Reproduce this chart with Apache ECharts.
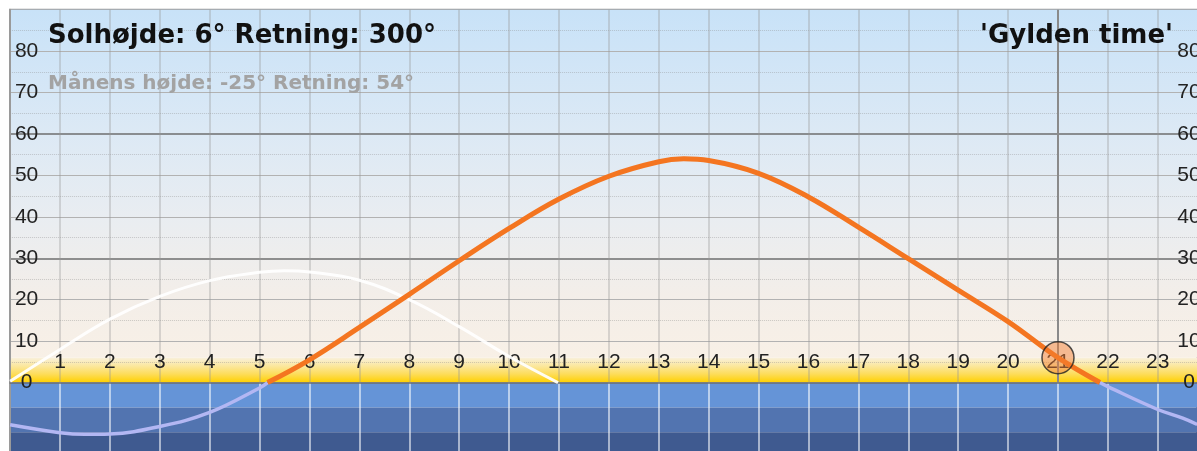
<!DOCTYPE html>
<html>
<head>
<meta charset="utf-8">
<script src="https://cdn.jsdelivr.net/npm/echarts@6/dist/echarts.min.js"></script>
<style>
  html, body { margin: 0; padding: 0; background: #fff; }
  #chart { width: 1197px; height: 451px; }
</style>
</head>
<body>
<div id="chart"></div>
<script>
// akser og gitter
const hourLabels = [1, 2, 3, 4, 5, 6, 7, 8, 9, 10, 11, 12, 13, 14, 15, 16, 17, 18, 19, 20, 21, 22, 23]
const yTickLabels = [0, 10, 20, 30, 40, 50, 60, 70, 80]
const gridMajor = [10, 20, 40, 50, 70, 80]
const gridDark = [30, 60]
const gridMinor = [5, 15, 25, 35, 45, 55, 65, 75, 85]
const goldenTop = 6
const twilightEdges = [0, -6, -12, -18]
const twilightColors = ['#6594d7', '#5274b0', '#3f5a90']

// solen over horisonten
const sunDayHours = [5.16, 6, 7, 8, 9, 10, 11, 12, 13, 13.5, 14, 15, 16, 17, 18, 19, 20, 21, 21.84]
const sunDayAlt = [0, 5.5, 13.3, 21.3, 29.4, 37.2, 44.3, 49.8, 53.3, 54, 53.6, 50.5, 44.8, 37.5, 29.9, 22.3, 14.7, 6, 0]
// solen under horisonten
const sunNightAmHours = [0, 1, 1.5, 2, 3, 4, 5, 5.16]
const sunNightAmAlt = [-10.2, -12.1, -12.5, -12.4, -10.6, -7.2, -1.3, 0]
const sunNightPmHours = [21.84, 22, 23, 23.5, 23.79]
const sunNightPmAlt = [0, -1, -6.5, -8.6, -10.1]
// månen
const moonHours = [0, 1, 2, 3, 4, 5, 5.5, 6, 7, 8, 9, 10, 10.98]
const moonAlt = [0.3, 8, 15.3, 20.8, 24.6, 26.6, 27, 26.7, 24.7, 20, 13.5, 6.3, 0]
// nu
const nowHour = [21]
const sunNow = [6]

// synligt udsnit (timer / grader)
const xMax = 23.786
const yMin = -16.52
const yMax = 90

const pairs = (xs, ys) => xs.map((x, i) => [x, ys[i]])
const grad = (stops) => new echarts.graphic.LinearGradient(0, 0, 0, 1,
  stops.map(s => ({ offset: s[0], color: s[1] })))

const chart = echarts.init(document.getElementById('chart'))

const numFont = 'Liberation Sans, Arial, sans-serif'
const titleFont = 'DejaVu Sans, Verdana, sans-serif'

// baggrund
const areas = [
  [{ yAxis: goldenTop, itemStyle: { color: grad([[0, '#c8e2f8'], [0.35, '#dce9f5'], [0.6, '#e9edf1'], [0.82, '#f3eee9'], [1, '#f8f0e6']]) } }, { yAxis: yMax }],
  [{ yAxis: 0, itemStyle: { color: grad([[0, '#f8f0dc'], [0.3, '#fbe8a4'], [0.65, '#fddd5c'], [1, '#ffd000']]) } }, { yAxis: goldenTop }]
]
for (let i = 0; i < twilightColors.length; i++) {
  const low = i === twilightColors.length - 1 ? yMin : twilightEdges[i + 1]
  areas.push([{ yAxis: low, itemStyle: { color: twilightColors[i] } }, { yAxis: twilightEdges[i] }])
}

// gitterlinjer
const lines = []
gridMinor.forEach(v => lines.push({ yAxis: v, lineStyle: { color: 'rgba(140,140,140,0.4)', width: 1, type: 'dotted' } }))
gridMajor.forEach(v => lines.push({ yAxis: v, lineStyle: { color: '#b2b2b2', width: 1.2, type: 'solid' } }))
gridDark.forEach(v => lines.push({ yAxis: v, lineStyle: { color: '#6e6e6e', width: 1.5, type: 'solid' } }))
for (let h = 1; h <= 23; h++) {
  const now = nowHour.includes(h)
  lines.push([{ coord: [h, 0], lineStyle: { color: now ? '#8a8a8a' : 'rgba(150,150,150,0.45)', width: now ? 2 : 1.5, type: 'solid' } }, { coord: [h, yMax] }])
  lines.push([{ coord: [h, yMin], lineStyle: { color: 'rgba(255,255,255,0.55)', width: 2, type: 'solid' } }, { coord: [h, 0] }])
}

const option = {
  animation: false,
  title: [
    { text: 'Solhøjde: 6° Retning: 300°', left: 48, top: 23, padding: 0,
      textStyle: { fontFamily: titleFont, fontWeight: 'bold', fontSize: 26, color: '#111' } },
    { text: 'Månens højde: -25° Retning: 54°', left: 48, top: 74, padding: 0,
      textStyle: { fontFamily: titleFont, fontWeight: 'bold', fontSize: 20, color: '#a3a3a3' } },
    { text: "'Gylden time'", right: 24, top: 23, padding: 0,
      textStyle: { fontFamily: titleFont, fontWeight: 'bold', fontSize: 26, color: '#111' } }
  ],
  grid: {
    left: 10.1, right: 0, top: 9.7, bottom: 0, outerBoundsMode: 'none',
    show: true, borderColor: '#9a9a9a', borderWidth: 2, backgroundColor: 'transparent'
  },
  xAxis: {
    type: 'value', min: 0, max: xMax, z: 3, offset: -68.44,
    axisLine: { show: true, onZero: true, lineStyle: { color: '#6e6e6e', width: 1.5 } },
    axisTick: { show: false },
    splitLine: { show: false },
    axisLabel: {
      inside: true, margin: 10, fontSize: 21, color: '#222', fontFamily: numFont,
      customValues: hourLabels
    }
  },
  yAxis: [
    {
      type: 'value', min: yMin, max: yMax, position: 'left', z: 3,
      axisLine: { show: true, onZero: false, lineStyle: { color: '#9a9a9a', width: 2 } },
      axisTick: { show: false }, splitLine: { show: false },
      axisLabel: { inside: true, align: 'center', margin: 16.5, fontSize: 21, color: '#222', fontFamily: numFont, customValues: yTickLabels }
    },
    {
      type: 'value', min: yMin, max: yMax, position: 'right', z: 3,
      axisLine: { show: false, onZero: false }, axisTick: { show: false }, splitLine: { show: false },
      axisLabel: {
        inside: true, align: 'right', margin: -5, fontSize: 21, color: '#222', fontFamily: numFont,
        customValues: yTickLabels, formatter: '{a|{value}}',
        rich: { a: { width: 26, align: 'center', fontSize: 21, color: '#222', fontFamily: numFont } }
      }
    }
  ],
  series: [
    { name: 'bg', type: 'line', data: [], silent: true,
      markArea: { z: 1, silent: true, data: areas } },
    { name: 'grid', type: 'line', data: [], silent: true,
      markLine: { z: 2, silent: true, symbol: ['none', 'none'], label: { show: false }, emphasis: { disabled: true }, data: lines } },
    { name: 'Sol nat 1', type: 'line', z: 4, smooth: 0.4, showSymbol: false, silent: true,
      data: pairs(sunNightAmHours, sunNightAmAlt), lineStyle: { color: '#b3b7f3', width: 3.5 } },
    { name: 'Sol nat 2', type: 'line', z: 4, smooth: 0.4, showSymbol: false, silent: true,
      data: pairs(sunNightPmHours, sunNightPmAlt), lineStyle: { color: '#b3b7f3', width: 3.5 } },
    { name: 'Måne', type: 'line', z: 4, smooth: 0.4, showSymbol: false, silent: true,
      data: pairs(moonHours, moonAlt), lineStyle: { color: 'rgba(255,255,255,0.92)', width: 3 } },
    { name: 'Sol', type: 'line', z: 4, smooth: 0.4, showSymbol: false, silent: true,
      data: pairs(sunDayHours, sunDayAlt), lineStyle: { color: '#f47520', width: 5 } },
    { name: 'Nu', type: 'scatter', z: 5, symbolSize: 32, silent: true,
      data: pairs(nowHour, sunNow),
      itemStyle: { color: 'rgba(242,125,50,0.6)', borderColor: '#222', borderWidth: 1.5 } }
  ]
}

chart.setOption(option)
window.addEventListener('resize', () => chart.resize())
</script>
</body>
</html>
